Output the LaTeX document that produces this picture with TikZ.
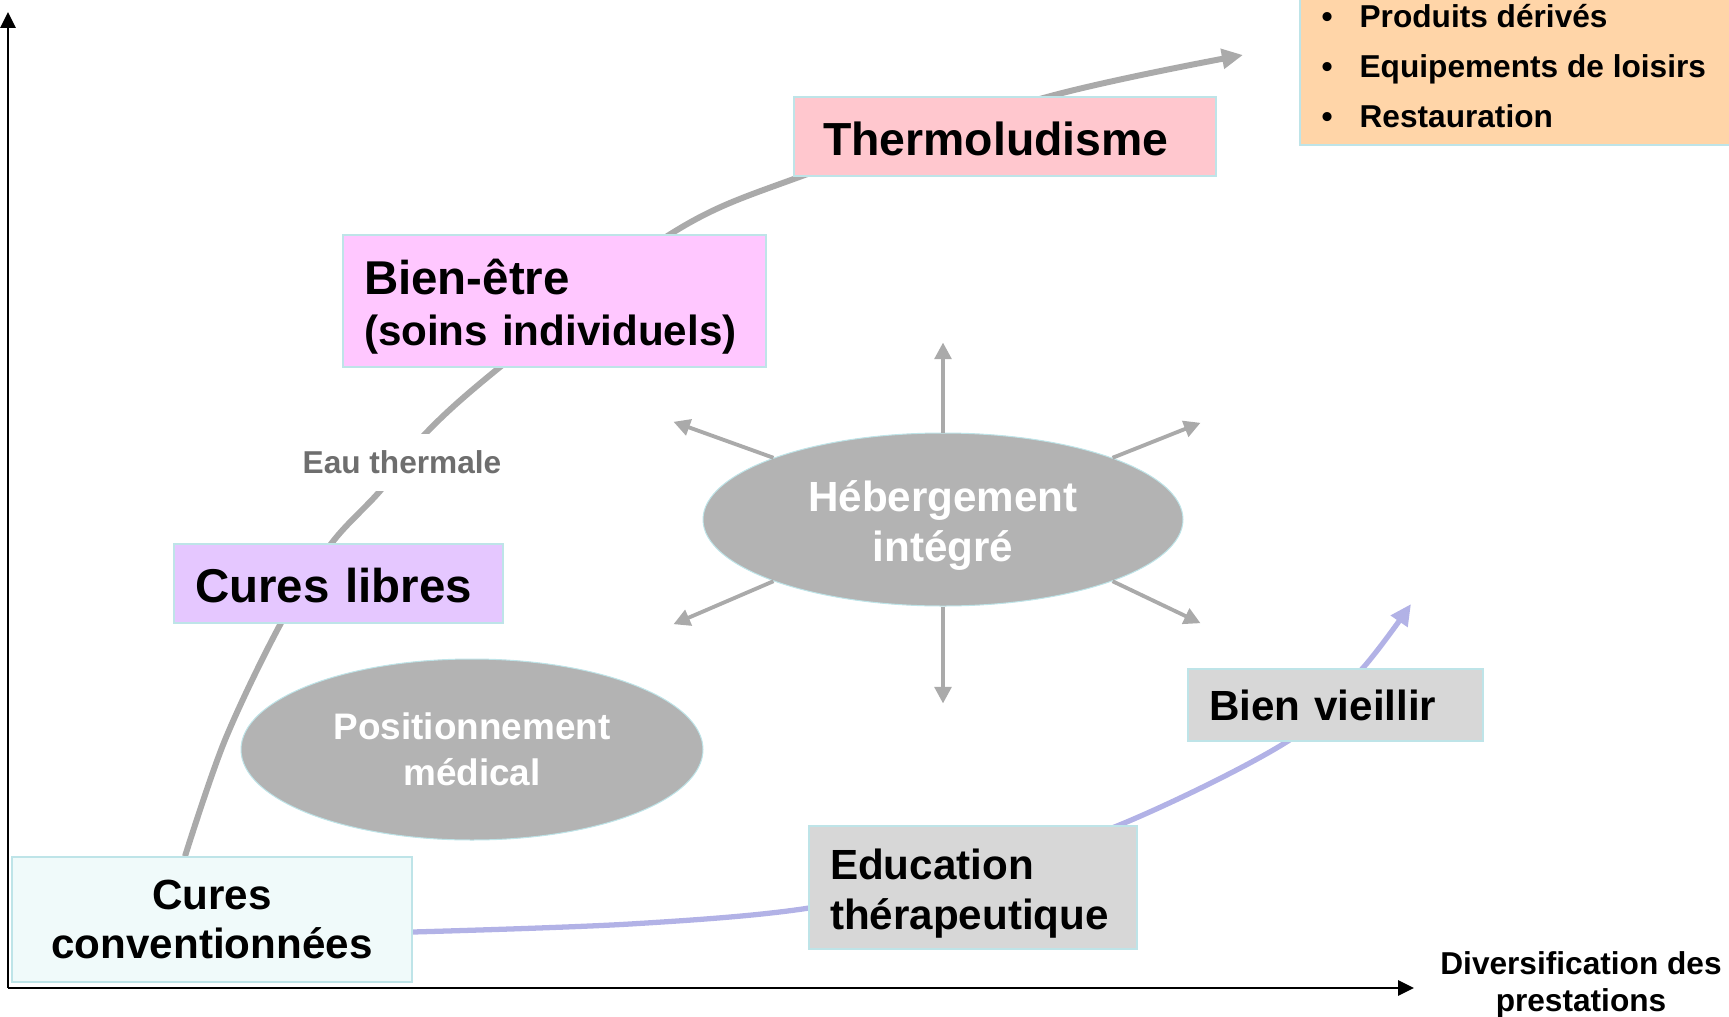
\documentclass[tikz,border=0pt]{standalone}
\usepackage{fontspec}
\setmainfont{Liberation Sans}
\usetikzlibrary{arrows.meta,shapes.geometric,backgrounds}

\definecolor{thermopink}{RGB}{255,199,206}
\definecolor{wellpink}{RGB}{255,199,255}
\definecolor{curelilac}{RGB}{229,199,255}
\definecolor{conventmint}{RGB}{240,250,250}
\definecolor{caregrey}{RGB}{215,215,215}
\definecolor{offerpeach}{RGB}{255,213,168}
\definecolor{blobgrey}{RGB}{179,179,179}
\definecolor{edgecyan}{RGB}{190,228,232}
\definecolor{trendgrey}{RGB}{170,170,170}
\definecolor{trendblue}{RGB}{178,178,230}
\definecolor{labelgrey}{RGB}{110,110,110}

\tikzset{
	stage/.style={draw=edgecyan, line width=0.15mm, inner xsep=2.1mm, inner ysep=0pt, align=left, font=\fontsize{12}{14.2}\selectfont\bfseries},
	halo/.style={ellipse, draw=edgecyan, line width=0.1mm, fill=blobgrey, text=white, inner sep=0pt, align=center},
	spoke/.style={line width=1.1pt, color=trendgrey, -{Triangle[length=4.7pt,width=4.7pt]}},
	axis/.style={line width=0.6pt, -{Triangle[length=4.5pt,width=4.3pt]}},
	offer/.style={anchor=base west, inner sep=0pt, font=\fontsize{9}{11}\selectfont\bfseries},
}

\begin{document}
\begin{tikzpicture}
			%%%%% START %%%%%
			
			\useasboundingbox (0,0) rectangle (17.29,-10.16);
			
			\draw[draw=edgecyan, line width=0.15mm, fill=offerpeach] (13.0,0.1) rectangle (17.5,-1.45);
			\node[offer] (prod) at (13.21,-0.27) {\makebox[10.8pt][l]{\textbullet}Produits dérivés};
			\node[offer] (equip) at (13.21,-0.78) {\makebox[10.8pt][l]{\textbullet}Equipements de loisirs};
			\node[offer] (resto) at (13.21,-1.27) {\makebox[10.8pt][l]{\textbullet}Restauration};
			
			\node[stage, fill=thermopink, text width=3.64cm, inner xsep=2.9mm, minimum height=0.79cm, font=\fontsize{13.2}{15}\selectfont\bfseries] (thermo) at (10.05,-1.365) {\rule{0pt}{11pt}Thermoludisme};
			\node[stage, fill=wellpink, text width=3.81cm, minimum height=1.32cm, font=\fontsize{12}{14.5}\selectfont\bfseries] (bienetre) at (5.545,-3.01) {{\fontsize{13.5}{14.5}\selectfont\rule{0pt}{13.5pt}Bien-être}\\(soins individuels)};
			\node[stage, fill=curelilac, text width=2.87cm, minimum height=0.79cm, font=\fontsize{13.5}{15}\selectfont\bfseries] (libres) at (3.385,-5.835) {\rule{0pt}{11pt}Cures libres};
			\node[stage, fill=conventmint, text width=3.58cm, align=center, minimum height=1.25cm] (convent) at (2.12,-9.195) {Cures\\conventionnées};
			\node[stage, fill=caregrey, text width=2.86cm, minimum height=1.23cm] (educ) at (9.73,-8.875) {\rule{0pt}{12pt}Education\\thérapeutique};
			\node[stage, fill=caregrey, text width=2.53cm, minimum height=0.72cm] (vieillir) at (13.355,-7.05) {Bien vieillir};
			
			\node[halo, minimum width=4.8cm, minimum height=1.73cm, font=\fontsize{12}{14.2}\selectfont\bfseries] (heberg) at (9.43,-5.195) {\rule{0pt}{12.4pt}Hébergement\\intégré};
			\node[halo, minimum width=4.62cm, minimum height=1.81cm, font=\fontsize{10.5}{13.1}\selectfont\bfseries] (posit) at (4.72,-7.495) {Positionnement\\médical};
			
			\node[fill=white, text=labelgrey, inner xsep=1mm, inner ysep=1.7mm, font=\fontsize{9}{11}\selectfont\bfseries] (eau) at (4.02,-4.625) {Eau thermale};
			
			\draw[spoke] (heberg.north) -- ++(0,0.9);
			\draw[spoke] (heberg.south) -- ++(0,-0.97);
			\draw[spoke] (heberg.160) -- ++(-1.0,0.36);
			\draw[spoke] (heberg.200) -- ++(-1.0,-0.43);
			\draw[spoke] (heberg.20) -- ++(0.88,0.35);
			\draw[spoke] (heberg.340) -- ++(0.88,-0.42);
			
			\coordinate (origin) at (0.08,-9.88);
			\draw[axis] (origin) -- (0.08,-0.12);
			\draw[axis] (origin) -- (14.14,-9.88);
			\node[font=\fontsize{9}{10.7}\selectfont\bfseries, align=center] (divers) at (15.81,-9.85) {Diversification des\\prestations};
			
			\begin{pgfonlayer}{background}
			\coordinate (greystart) at ([xshift=-2.7mm]convent.north);
			\coordinate (greytip) at (12.43,-0.55);
			\draw[line width=1.7pt, color=trendgrey, -{Triangle[length=6pt,width=5.5pt]}] plot[smooth, tension=0.55] coordinates {(greystart) (2.25,-7.4) (2.81,-6.23) (3.31,-5.44) (3.80,-4.91) (4.27,-4.32) (5.00,-3.67) (6.69,-2.35) (8.02,-1.76) (10.47,-0.97) (greytip)};
			
			\coordinate (bluestart) at ([yshift=-1.25mm]convent.east);
			\coordinate (bluetip) at (14.11,-6.04);
			\draw[line width=1.5pt, color=trendblue, -{Triangle[length=6pt,width=5.5pt]}] plot[smooth, tension=0.55] coordinates {(bluestart) (6.3,-9.24) (8.09,-9.08) (9.65,-8.72) (11.17,-8.26) (12.88,-7.41) (13.62,-6.69) (bluetip)};
			\end{pgfonlayer}
			
			%%%%% END %%%%%
\end{tikzpicture}
\end{document}
